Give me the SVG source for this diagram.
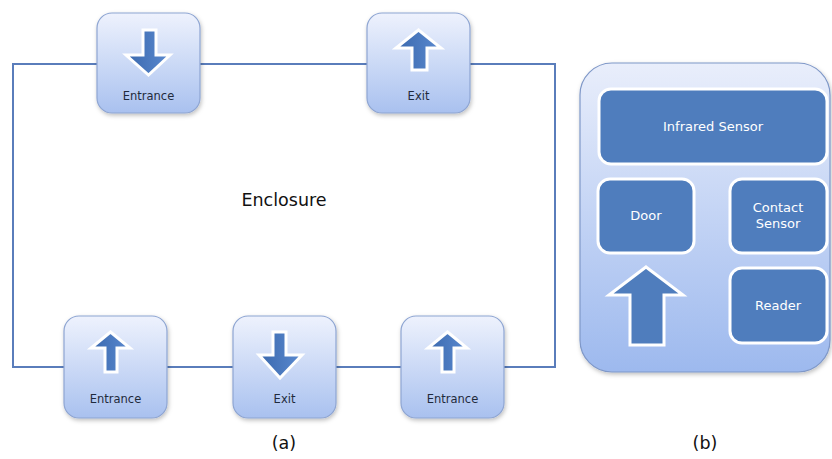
<svg xmlns="http://www.w3.org/2000/svg" width="832" height="459" viewBox="0 0 832 459">
<defs>
<linearGradient id="gBox" x1="0" y1="0" x2="0" y2="1">
<stop offset="0" stop-color="#eef2fd"/>
<stop offset="1" stop-color="#a9c1ef"/>
</linearGradient>
<linearGradient id="gPanel" x1="0" y1="0" x2="0" y2="1">
<stop offset="0" stop-color="#e9eefb"/>
<stop offset="1" stop-color="#9db9ee"/>
</linearGradient>
<linearGradient id="gArrow" x1="0" y1="0" x2="1" y2="0">
<stop offset="0" stop-color="#3a68ad"/>
<stop offset="1" stop-color="#5b8ad0"/>
</linearGradient>
<filter id="sh" x="-20%" y="-20%" width="140%" height="140%">
<feDropShadow dx="1" dy="2" stdDeviation="2" flood-color="#000" flood-opacity="0.25"/>
</filter>
</defs>
<style>
.box{fill:url(#gBox);stroke:#8ea5d2;stroke-width:1.2;filter:url(#sh)}
.arr{fill:url(#gArrow);stroke:#ffffff;stroke-width:3;stroke-linejoin:miter}
.lbl{font-family:"DejaVu Sans",Verdana,sans-serif;font-size:11.5px;fill:#1f2a3c;text-anchor:middle}
.inner{fill:#4f7dbd;stroke:#ffffff;stroke-width:3}
.wl{font-family:"DejaVu Sans",Verdana,sans-serif;font-size:13px;fill:#ffffff;text-anchor:middle}
.big{font-family:"DejaVu Sans",Verdana,sans-serif;font-size:17.5px;fill:#111111;text-anchor:middle}
</style>
<rect width="832" height="459" fill="#ffffff"/>
<g id="connectors">
<rect x="13" y="64" width="542" height="303" fill="none" stroke="#5a7dbb" stroke-width="2"/>
</g>
<text class="big" x="284" y="206">Enclosure</text>
<g id="entrance-top">
<rect class="box" x="97" y="13" width="103" height="100" rx="15"/>
<path class="arr" d="M143,30 H156 V55 H170 L148.5,75 L126,55 H143 Z"/>
<text class="lbl" x="148.5" y="100">Entrance</text>
</g>
<g id="exit-top">
<rect class="box" x="367" y="13" width="103" height="100" rx="15"/>
<path class="arr" d="M418.5,30 L441,48 H427 V70 H412 V48 H396 Z"/>
<text class="lbl" x="418.5" y="100">Exit</text>
</g>
<g id="entrance-bottom-left">
<rect class="box" x="64" y="316" width="103" height="102" rx="15"/>
<path class="arr" d="M110.5,332 L130,348 H117 V372 H105 V348 H91 Z"/>
<text class="lbl" x="115.5" y="403">Entrance</text>
</g>
<g id="exit-bottom">
<rect class="box" x="233" y="316" width="103" height="102" rx="15"/>
<path class="arr" d="M273,332 H286 V355 H302 L280,378 L259,355 H273 Z"/>
<text class="lbl" x="284.5" y="403">Exit</text>
</g>
<g id="entrance-bottom-right">
<rect class="box" x="401" y="316" width="103" height="102" rx="15"/>
<path class="arr" d="M447.5,332 L467,348 H454 V372 H442 V348 H428 Z"/>
<text class="lbl" x="452.5" y="403">Entrance</text>
</g>
<g id="panel-b">
<rect x="580" y="63" width="250" height="309" rx="32" fill="url(#gPanel)" stroke="#7f98c8" stroke-width="1.2" filter="url(#sh)"/>
</g>
<g id="infrared-sensor">
<rect class="inner" x="599" y="89" width="228" height="75" rx="12"/>
<text class="wl" x="713" y="131">Infrared Sensor</text>
</g>
<g id="door">
<rect class="inner" x="598" y="179" width="96" height="74" rx="12"/>
<text class="wl" x="646" y="220">Door</text>
</g>
<g id="contact-sensor">
<rect class="inner" x="730" y="179" width="97" height="74" rx="12"/>
<text class="wl" x="778" y="212">Contact</text>
<text class="wl" x="778" y="228">Sensor</text>
</g>
<g id="reader">
<rect class="inner" x="730" y="268" width="97" height="75" rx="12"/>
<text class="wl" x="778" y="310">Reader</text>
</g>
<g id="door-arrow">
<path class="arr" style="fill:#4f7dbd" d="M646,267 L683,295 H664 V345 H630 V295 H609 Z"/>
</g>
<text class="big" x="284" y="449">(a)</text>
<text class="big" x="705" y="449">(b)</text>
</svg>
